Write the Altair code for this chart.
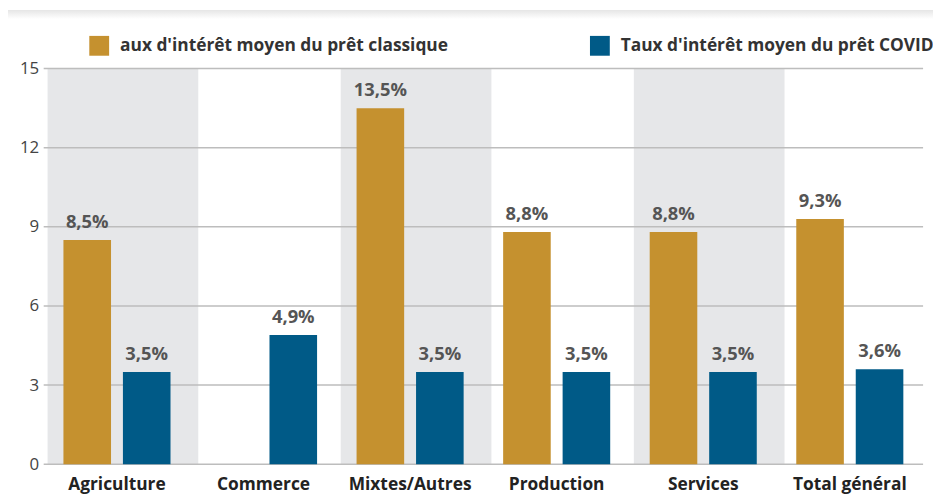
import altair as alt
import pandas as pd

categories = ["Agriculture", "Commerce", "Mixtes/Autres", "Production", "Services", "Total général"]
classique = [8.5, None, 13.5, 8.8, 8.8, 9.3]
covid = [3.5, 4.9, 3.5, 3.5, 3.5, 3.6]
series_names = ["aux d'intérêt moyen du prêt classique", "Taux d'intérêt moyen du prêt COVID"]
shaded = ["Agriculture", "Mixtes/Autres", "Services"]
y_ticks = [0, 3, 6, 9, 12, 15]
colors = ["#C5912F", "#005A87"]

rows = []
for cat, a, b in zip(categories, classique, covid):
    for s, v in zip(series_names, [a, b]):
        if v is not None:
            rows.append({"category": cat, "series": s, "value": v,
                         "label": f"{v:.1f}".replace(".", ",") + "%"})
df = pd.DataFrame(rows)
band_df = pd.DataFrame({"category": shaded})
grid_df = pd.DataFrame({"value": y_ticks})

FONT = "Open Sans"
W, H = 887, 399

x_enc = alt.X("category:N", sort=categories,
              scale=alt.Scale(paddingInner=0, paddingOuter=0),
              axis=alt.Axis(title=None, labelAngle=0, domain=False, ticks=False,
                            labelFont=FONT, labelFontSize=17.5, labelFontWeight="bold",
                            labelColor="#222222", labelPadding=12))
y_enc = alt.Y("value:Q", scale=alt.Scale(domain=[0, 15], nice=False),
              axis=alt.Axis(title=None, values=y_ticks, grid=False, domain=False, ticks=False,
                            labelFont=FONT, labelFontSize=17, labelColor="#444444",
                            labelPadding=5))
xoff = alt.XOffset("series:N", sort=series_names,
                   scale=alt.Scale(paddingInner=0.2, paddingOuter=0.332))

shadow = alt.Chart(pd.DataFrame({"a": [0]})).mark_rect(
    color=alt.Gradient(gradient="linear", x1=0, x2=0, y1=0, y2=1,
                       stops=[alt.GradientStop(color="#e6e6e6", offset=0),
                              alt.GradientStop(color="#ffffff", offset=1)])
).encode(x=alt.value(-36), x2=alt.value(W + 10), y=alt.value(-59), y2=alt.value(-50))

border = alt.Chart(pd.DataFrame({"a": [0]})).mark_rule(color="#2E6C9A", strokeWidth=2).encode(
    x=alt.value(-39), y=alt.value(-59), y2=alt.value(H + 37))

bands = alt.Chart(band_df).mark_bar(color="#E6E7E9", width=152, xOffset=6).encode(
    x=x_enc, y=alt.value(0), y2=alt.value(H))

grid = alt.Chart(grid_df).mark_rule(color="#BDBDBD", strokeWidth=1.5).encode(y=y_enc)

bars = alt.Chart(df).mark_bar().encode(
    x=x_enc, xOffset=xoff, y=y_enc,
    color=alt.Color("series:N", sort=series_names,
                    scale=alt.Scale(domain=series_names, range=colors),
                    legend=alt.Legend(orient="none", legendX=46, legendY=-33,
                                      direction="horizontal", columns=2, title=None,
                                      symbolType="square", symbolSize=400,
                                      symbolStrokeWidth=0, symbolOpacity=1,
                                      labelFont=FONT, labelFontSize=17.5, labelFontWeight="bold",
                                      labelColor="#333333", labelOffset=11,
                                      columnPadding=142, labelLimit=500)))

text = alt.Chart(df).mark_text(baseline="bottom", dy=-8, font=FONT, fontSize=18.5,
                               fontWeight="bold", color="#555555").encode(
    x=x_enc, xOffset=xoff, y=y_enc, text="label:N")

chart = alt.layer(shadow, border, bands, grid, bars, text).properties(
    width=W, height=H, autosize="none",
    padding={"left": 36, "top": 59, "right": 10, "bottom": 37},
    background="white"
).configure_view(stroke=None)

chart.save("out.html", embed_options={"renderer": "svg", "actions": False})
